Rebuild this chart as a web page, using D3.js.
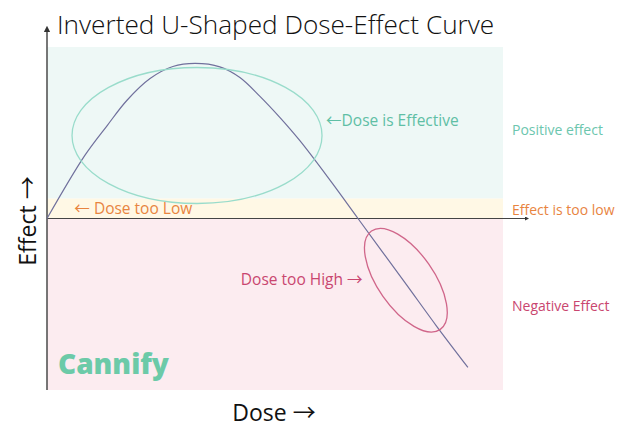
<!DOCTYPE html>
<html>
<head>
<meta charset="utf-8">
<script src="https://cdn.jsdelivr.net/npm/d3@7"></script>
<style>
  body { margin: 0; background: #fff; }
  text { font-family: 'Open Sans', 'Noto Sans', sans-serif; }
  .arr { font-family: 'Noto Sans CJK JP', 'DejaVu Sans', sans-serif; }
</style>
</head>
<body>
<div id="chart"></div>
<script>
// dose / effect values
let dose   = [0, 0.83, 1.32, 1.75, 2.26, 2.76, 3.25, 3.79, 4.23, 4.67, 5.11, 5.55, 6.21, 6.82, 7.85, 8.55, 9.23];
let effect = [0, 1.84, 2.71, 3.44, 4.08, 4.43, 4.52, 4.42, 4.11, 3.56, 2.94, 2.26, 1.11, 0, -1.87, -3.15, -4.34];

// background zones (effect range)
let zoneNames = ['Positive effect', 'Effect is too low', 'Negative Effect'];
let zoneFrom  = [0.58, 0, -5];
let zoneTo    = [5, 0.58, 0];
let zoneFill  = ['#eef8f6', '#fff8e5', '#fcecf0'];
let zoneColor = ['#6cc6ae', '#e8843f', '#c9466f'];
let zoneLabelY = [2.57, 0.25, -2.56];

let svgWidth = 628, svgHeight = 447;
let margin = { left: 47, top: 47, right: 125, bottom: 57 };
let width = svgWidth - margin.left - margin.right;
let height = svgHeight - margin.top - margin.bottom;

let svg = d3.select('#chart').append('svg')
    .attr('width', svgWidth)
    .attr('height', svgHeight);

let defs = svg.append('defs');
defs.append('marker')
    .attr('id', 'arrow')
    .attr('viewBox', '0 0 10 10')
    .attr('refX', 5).attr('refY', 5)
    .attr('markerWidth', 4).attr('markerHeight', 4)
    .attr('orient', 'auto')
    .append('path')
    .attr('d', 'M0,0 L10,5 L0,10 z')
    .attr('fill', '#333');

let g = svg.append('g')
    .attr('transform', 'translate(' + margin.left + ',' + margin.top + ')');

let x = d3.scaleLinear().domain([0, 10]).range([0, width]);
let y = d3.scaleLinear().domain([-5, 5]).range([height, 0]);

// zones
g.selectAll('.zone')
    .data(zoneNames)
    .enter().append('rect')
    .attr('class', 'zone')
    .attr('x', 0)
    .attr('width', width)
    .attr('y', (d, i) => y(zoneTo[i]))
    .attr('height', (d, i) => y(zoneFrom[i]) - y(zoneTo[i]))
    .attr('fill', (d, i) => zoneFill[i]);

g.selectAll('.zone-label')
    .data(zoneNames)
    .enter().append('text')
    .attr('class', 'zone-label')
    .attr('x', width + 9)
    .attr('y', (d, i) => y(zoneLabelY[i]))
    .attr('dy', '0.35em')
    .attr('font-size', 14)
    .attr('fill', (d, i) => zoneColor[i])
    .text(d => d);

// axes
let xAxis = g.append('g')
    .attr('transform', 'translate(0,' + y(0) + ')')
    .call(d3.axisBottom(x).ticks(0).tickSizeOuter(0));
xAxis.select('.domain')
    .attr('d', 'M0,0H' + (width + 24))
    .attr('stroke', '#444')
    .attr('marker-end', 'url(#arrow)');

let yAxis = g.append('g')
    .call(d3.axisLeft(y).ticks(0).tickSizeOuter(0));
yAxis.select('.domain')
    .attr('d', 'M0,' + height + 'V-18')
    .attr('stroke', '#555')
    .attr('stroke-width', 1.6)
    .attr('marker-end', 'url(#arrow)');

// curve
let points = dose.map((d, i) => [d, effect[i]]);
let line = d3.line()
    .x(d => x(d[0]))
    .y(d => y(d[1]))
    .curve(d3.curveCatmullRom.alpha(0.5));

g.append('path')
    .datum(points)
    .attr('fill', 'none')
    .attr('stroke', '#70709c')
    .attr('stroke-width', 1.2)
    .attr('d', line);

// highlight ellipses
g.append('ellipse')
    .attr('cx', x(3.29)).attr('cy', y(2.42))
    .attr('rx', 125).attr('ry', 68)
    .attr('fill', 'none')
    .attr('stroke', '#99dccb')
    .attr('stroke-width', 1.3);

g.append('ellipse')
    .attr('transform', 'translate(' + x(7.87) + ',' + y(-1.8) + ') rotate(55)')
    .attr('rx', 60).attr('ry', 28)
    .attr('fill', 'none')
    .attr('stroke', '#d0668a')
    .attr('stroke-width', 1.3);

// text with a bigger arrow glyph
function label(sel, before, arrow, after) {
    if (before) sel.append('tspan').text(before);
    sel.append('tspan').attr('class', 'arr').text(arrow);
    if (after) sel.append('tspan').text(after);
    return sel;
}

// annotations
label(g.append('text')
    .attr('x', x(6.12)).attr('y', 79)
    .attr('font-size', 15.5)
    .attr('fill', '#5fbfa5'), '', '\u2190', 'Dose is Effective');

label(g.append('text')
    .attr('x', x(0.6)).attr('y', y(0.29))
    .attr('dy', '0.35em')
    .attr('font-size', 15.5)
    .attr('fill', '#e8843f'), '', '\u2190', ' Dose too Low');

label(g.append('text')
    .attr('x', x(6.92)).attr('y', y(-1.78))
    .attr('dy', '0.35em')
    .attr('text-anchor', 'end')
    .attr('font-size', 15.5)
    .attr('fill', '#c9466f'), 'Dose too High ', '\u2192', '');

// logo
g.append('text')
    .attr('x', 11).attr('y', height - 16)
    .attr('font-family', 'Lato, sans-serif')
    .attr('font-weight', 900)
    .attr('font-size', 28)
    .attr('fill', '#6ccaa8')
    .text('Cannify');

// titles
svg.append('text')
    .attr('x', 57).attr('y', 34)
    .attr('font-size', 26.2)
    .attr('font-weight', 300)
    .attr('fill', '#111')
    .text('Inverted U-Shaped Dose-Effect Curve');

label(svg.append('text')
    .attr('x', 274).attr('y', 421)
    .attr('text-anchor', 'middle')
    .attr('font-size', 23)
    .attr('fill', '#111'), 'Dose ', '\u2192', '');

label(svg.append('text')
    .attr('transform', 'translate(36,221) rotate(-90)')
    .attr('text-anchor', 'middle')
    .attr('font-size', 23)
    .attr('fill', '#111'), 'Effect ', '\u2192', '');
</script>
</body>
</html>
